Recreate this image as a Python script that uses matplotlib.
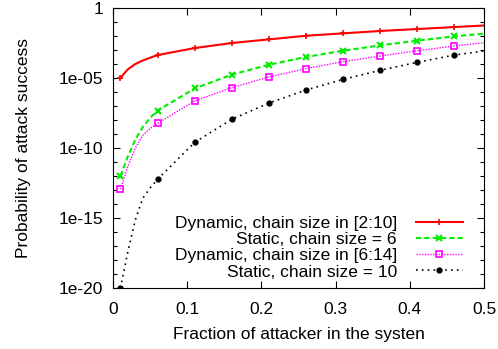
import numpy as np
import matplotlib
matplotlib.use('Agg')
import matplotlib.pyplot as plt
from matplotlib.ticker import FixedLocator, FuncFormatter, NullFormatter

plt.rcParams['font.family'] = ['Liberation Sans', 'DejaVu Sans']

# x positions (fraction of attacker)
x = [0.01, 0.02, 0.03, 0.04, 0.05, 0.06, 0.11, 0.16, 0.21, 0.26,
     0.31, 0.36, 0.41, 0.46, 0.50]

# values, as decades below 1 (value = 10**-d)
dyn_2_10 = [4.98, 4.38, 4.00, 3.75, 3.55, 3.36, 2.86, 2.50, 2.24, 1.98,
            1.81, 1.64, 1.50, 1.36, 1.25]
static_6 = [12.0, 10.6, 9.4, 8.5, 7.85, 7.33, 5.75, 4.76, 4.05, 3.50,
            3.05, 2.67, 2.33, 2.02, 1.83]
dyn_6_14 = [12.95, 11.3, 10.0, 9.1, 8.6, 8.24, 6.64, 5.69, 4.93, 4.33,
            3.83, 3.43, 3.05, 2.71, 2.48]
static_10 = [20.0, 17.4, 15.14, 13.6, 12.85, 12.24, 9.6, 7.95, 6.79, 5.86,
             5.10, 4.45, 3.88, 3.36, 3.07]

labels = ['Dynamic, chain size in [2:10]', 'Static, chain size = 6',
          'Dynamic, chain size in [6:14]', 'Static, chain size = 10']

marks = [0, 5, 6, 7, 8, 9, 10, 11, 12, 13]
fs = 12.5

fig = plt.figure(figsize=(4.98, 3.49), dpi=100)
ax = fig.add_axes([0.227, 0.175, 0.745, 0.802])

def p(d):
    return [10.0 ** (-v) for v in d]

ax.plot(x, p(dyn_2_10), color='#ff0000', lw=1.5, marker='+', ms=5, mew=1.2,
        markevery=marks, label=labels[0])
ax.plot(x, p(static_6), color='#00ee00', lw=1.5, ls=(0, (2.5, 1.5)), marker='x',
        ms=5, mew=1.5, markevery=marks, label=labels[1])
ax.plot(x, p(dyn_6_14), color='#ff00ff', lw=1.0, ls=(0, (1, 1)), marker='s',
        ms=5, mew=1.2, mfc='none', markevery=marks, label=labels[2])
ax.plot(x, p(static_10), color='black', lw=1.2, ls=(0, (1, 2.5)), marker='o',
        ms=3.5, markevery=marks, label=labels[3])

ax.set_yscale('log')
ax.set_xlim(0, 0.5)
ax.set_ylim(1e-20, 1)
ax.set_xticks([0, 0.1, 0.2, 0.3, 0.4, 0.5])
ax.set_xticklabels(['0', '0.1', '0.2', '0.3', '0.4', '0.5'])
ax.yaxis.set_major_locator(FixedLocator([1e-20, 1e-15, 1e-10, 1e-5, 1]))
ax.yaxis.set_major_formatter(FuncFormatter(lambda v, pos: '1' if v == 1 else '1e-%02d' % round(-np.log10(v))))
ax.yaxis.set_minor_locator(FixedLocator([10.0 ** -k for k in range(21)]))
ax.yaxis.set_minor_formatter(NullFormatter())
ax.tick_params(which='both', direction='in', top=True, right=True, labelsize=fs)
ax.tick_params(which='major', length=5, width=0.8)
ax.tick_params(which='minor', length=3, width=0.8)
ax.tick_params(axis='x', pad=10)
ax.tick_params(axis='y', pad=7)

ax.set_xlabel('Fraction of attacker in the systen', fontsize=fs)
ax.set_ylabel('Probability of attack success', fontsize=fs)
ax.xaxis.set_label_coords(0.5, -0.138)
ax.yaxis.set_label_coords(-0.222, 0.5)

ax.legend(loc='lower right', bbox_to_anchor=(0.943, 0.03), frameon=False,
          markerfirst=False, fontsize=fs, handlelength=2.7,
          labelspacing=0.06, handletextpad=1.1, borderaxespad=0, borderpad=0)

fig.savefig('out.png', dpi=100)
